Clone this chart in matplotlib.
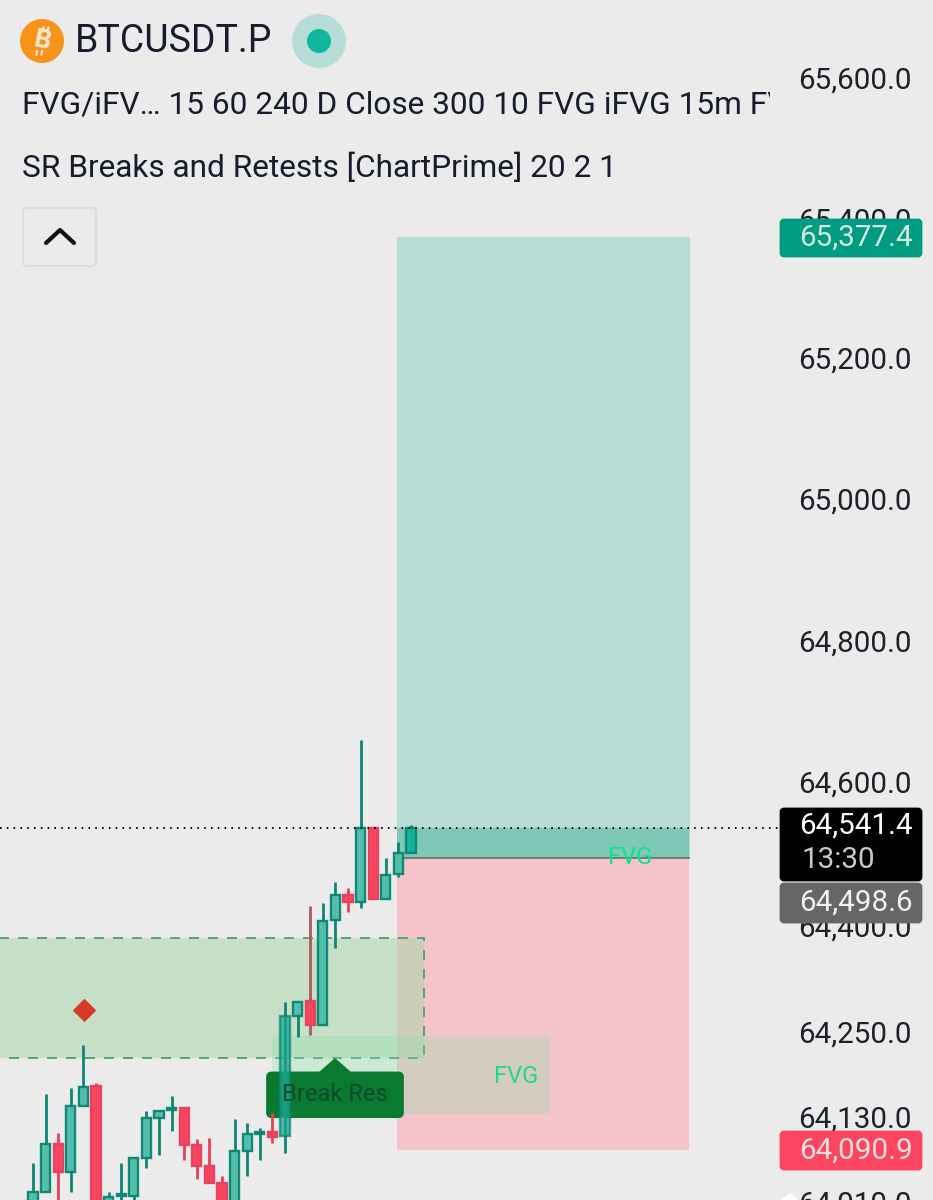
import matplotlib
matplotlib.use('Agg')
import matplotlib.pyplot as plt
from matplotlib.patches import Circle, FancyBboxPatch, Polygon, Rectangle
import numpy as np

plt.rcParams['font.family'] = ['Roboto', 'DejaVu Sans']

opens = [64001.0, 64026.5, 64094.4, 64054.8, 64148.1, 64176.4, 63993.9, 64021.0, 64020.8, 64074.6, 64131.2,
         64142.5, 64145.3, 64093.0, 64063.3, 64039.2, 64001.0, 64084.5, 64108.5, 64111.4, 64105.7,
         64275.5, 64296.7, 64262.7, 64411.3, 64446.6, 64436.7, 64541.4, 64441.0, 64476.3, 64506.0]
closes = [64026.5, 64094.4, 64054.8, 64148.1, 64175.0, 64001.0, 64019.4, 64023.0, 64074.6, 64131.2, 64141.1,
          64145.3, 64093.0, 64063.3, 64039.2, 64001.0, 64084.5, 64108.5, 64111.4, 64104.3, 64275.5,
          64295.3, 64262.7, 64409.8, 64446.6, 64436.7, 64541.4, 64441.0, 64474.9, 64506.0, 64541.4]
highs = [64067.5, 64165.1, 64109.9, 64173.6, 64234.4, 64180.7, 64026.5, 64067.5, 64076.0, 64141.1, 64141.1,
         64162.3, 64145.3, 64101.5, 64102.9, 64049.1, 64129.8, 64124.1, 64117.0, 64138.2, 64295.3,
         64296.7, 64431.1, 64435.3, 64465.0, 64456.5, 64665.9, 64541.4, 64499.0, 64521.6, 64545.6]
lows = [63993.9, 64026.5, 64008.1, 64026.5, 64148.1, 63993.9, 63993.9, 63993.9, 64008.1, 64060.4, 64078.8,
        64112.8, 64071.8, 64044.9, 64039.2, 63993.9, 63993.9, 64049.1, 64071.8, 64095.8, 64081.7,
        64245.7, 64248.6, 64262.7, 64371.6, 64422.6, 64428.2, 64441.0, 64441.0, 64472.1, 64506.0]

tick_values = [65600, 65400, 65200, 65000, 64800, 64600, 64400, 64250, 64130, 64010]
tick_labels = ['65,600.0', '65,400.0', '65,200.0', '65,000.0', '64,800.0', '64,600.0', '64,400.0',
               '64,250.0', '64,130.0', '64,010.0']

last_price = 64541.4
take_profit = 65377.4
entry = 64498.6
stop_box = 64085.9
zone_top = 64385.8
zone_bottom = 64216.0
fvg_top = 64247.2
fvg_bottom = 64136.8

BG = '#ebebeb'
UP = '#52c0aa'
UP_EDGE = '#0d8576'
DOWN = '#f8435f'
DOWN_EDGE = '#e8405a'

fig = plt.figure(figsize=(9.33, 12), dpi=100, facecolor=BG)
ax = fig.add_axes([0, 0, 1, 1], facecolor=BG)
ax.set_xlim(-2.619, 71.43)
ax.set_ylim(64015.2, 65712.7)
ax.axis('off')


# pixel position across -> candle index units
def ix(px):
    return (px - 33) / 12.6


# position boxes
ax.add_patch(Rectangle((ix(397), entry), ix(689) - ix(397), take_profit - entry, fc='#b6dcd5', ec='#aed5ce', lw=0.6, zorder=1))
ax.add_patch(Rectangle((ix(397), stop_box), ix(689) - ix(397), entry - stop_box, fc='#f5c4ca', ec='none', zorder=1))
ax.plot([ix(397), ix(689)], [entry, entry], color='#5b6b66', lw=1.1, zorder=2)
ax.add_patch(Rectangle((ix(397), entry), ix(689) - ix(397), last_price - entry, fc='#7fc8b8', ec='none', zorder=1.5))

# FVG zones
ax.add_patch(Rectangle((ix(-10), zone_bottom), ix(424) - ix(-10), zone_top - zone_bottom,
                       fc='#a5d6a7', ec='none', alpha=0.5, zorder=2))
ax.plot([ix(-10), ix(424), ix(424), ix(-10)], [zone_top, zone_top, zone_bottom, zone_bottom],
        color='#3f9a63', lw=1.2, ls=(0, (6, 5.4)), zorder=2.1)
ax.add_patch(Rectangle((ix(272), fvg_bottom), ix(550) - ix(272), fvg_top - fvg_bottom,
                       fc='#8ae3a8', ec='none', alpha=0.3, zorder=2.2))
ax.text(ix(516), 64190, 'FVG', color='#23d68c', fontsize=17, ha='center', va='center', zorder=3)
ax.text(ix(630), 64499, 'FVG', color='#0fe08c', fontsize=17, ha='center', va='center', zorder=3)

# Break Res label
ax.add_patch(Polygon([[ix(318), 64195], [ix(335), 64216], [ix(352), 64195]], closed=True, fc='#0a7a30', ec='none', zorder=4))
ax.add_patch(FancyBboxPatch((ix(271), 64138), ix(399) - ix(271), 52, boxstyle='round,pad=0', fc='#0a7a30', ec='#0a7a30',
                            lw=7, joinstyle='round', zorder=4))
ax.text(ix(335), 64164, 'Break Res', color='#0b4a2a', fontsize=17, ha='center', va='center', zorder=7)

# signal marker
ax.scatter([ix(84)], [64284], marker='D', s=120, color='#d83a2a', zorder=5)

# candles
idx = np.arange(len(opens))
for i in idx:
    up = closes[i] >= opens[i]
    ec = UP_EDGE if up else DOWN_EDGE
    fc = UP if up else DOWN
    alpha = 0.97
    if i == 30:
        fc = '#12b29c'
    if i == 20:
        fc = '#17a88f'
        alpha = 0.75
    ax.vlines(i, lows[i], highs[i], color='#a85a60' if i == 22 else ec, lw=2.0, zorder=6)
    ax.bar(i, abs(closes[i] - opens[i]), bottom=min(opens[i], closes[i]), width=0.72, color=fc, edgecolor=ec,
           linewidth=1.7, alpha=alpha, zorder=6.5)

ax.plot([ix(0), ix(779)], [last_price, last_price], color='black', lw=1.4, ls=(0, (0.8, 2.7)), zorder=7)

# price scale
for v, lab in zip(tick_values, tick_labels):
    off = 2 if 64500 < v < 65300 else -1
    ax.annotate(lab, (ix(855), v), xytext=(0, off), textcoords='offset pixels', color='#1d2129', fontsize=21.3,
                ha='center', va='center', zorder=8, annotation_clip=False)

# everything below is screen furniture, laid out in pixels
ui = fig.add_axes([0, 0, 1, 1], facecolor='none')
ui.set_xlim(0, 933)
ui.set_ylim(1200, 0)
ui.axis('off')


def tag(y0, y1, color, text, tc='white', ty=None):
    ui.add_patch(FancyBboxPatch((781, y0 + 2), 140, y1 - y0 - 4, boxstyle='round,pad=0,rounding_size=3', fc=color, ec=color, lw=2))
    ui.text(856, (y0 + y1) / 2 if ty is None else ty, text, color=tc, fontsize=21.3, ha='center', va='center')


tag(218, 258, '#009b80', '65,377.4', '#d4ebe4')
tag(807, 882, '#000000', '64,541.4', 'white', ty=826)
ui.text(801, 860, '13:30', color='#c9c9c9', fontsize=21.3, ha='left', va='center')
tag(882, 924, '#666666', '64,498.6', '#f2f2f2')
tag(1130, 1171, '#fb4561', '64,090.9', '#ffe0e2')
ui.add_patch(Polygon([[781, 1200], [790, 1193], [799, 1200]], closed=True, fc='white', ec='none'))

# header
ui.add_patch(Circle((42, 41), 22, fc='#f7931a', ec='none'))
ui.text(42, 41, 'B', color='#fde9cf', fontsize=19, fontweight='bold', rotation=-12, ha='center', va='center')
for dx in (-1.5, 3.5):
    ui.plot([45 + dx, 46 + dx - 1.5], [27.5, 31.5], color='#fde9cf', lw=1.6)
    ui.plot([38.5 + dx, 40 + dx - 2], [51, 54.5], color='#fde9cf', lw=1.6)
ui.text(75, 41, 'BTCUSDT.P', color='#161c2b', fontsize=27, ha='left', va='center')
ui.add_patch(Circle((319, 41), 27, fc='#b8dcd8', ec='none'))
ui.add_patch(Circle((319, 41), 12, fc='#0fb89f', ec='none'))
t = ui.text(22, 105, 'FVG/iFV\u2026 15 60 240 D Close 300 10 FVG iFVG 15m FVG iFVG', color='#161c2b', fontsize=22.8, ha='left', va='center')
t.set_clip_on(True)
t.set_clip_path(Rectangle((0, 0), 770, 1200, transform=ui.transData))
ui.text(22, 168, 'SR Breaks and Retests [ChartPrime] 20 2 1', color='#161c2b', fontsize=22.8, ha='left', va='center')
ui.add_patch(FancyBboxPatch((23, 208), 73, 58, boxstyle='round,pad=0,rounding_size=4', fc=BG, ec='#dcdcdc', lw=1.5))
ui.plot([46, 60, 74], [243, 230, 243], color='#111111', lw=3, solid_capstyle='round')

fig.savefig('out.png', dpi=100, facecolor=BG)
